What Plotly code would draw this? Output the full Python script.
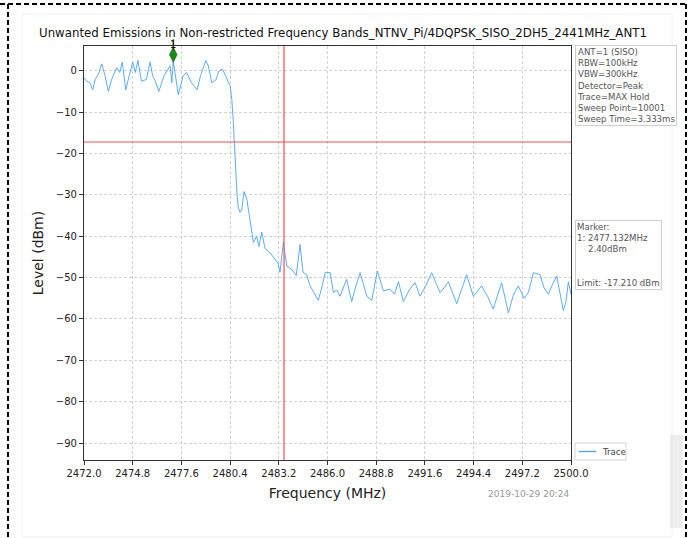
import plotly.graph_objects as go

title_text = "Unwanted Emissions in Non-restricted Frequency Bands_NTNV_Pi/4DQPSK_SISO_2DH5_2441MHz_ANT1"

freq_mhz = [
    2472.00, 2472.15, 2472.34, 2472.50, 2472.64, 2472.83, 2473.02, 2473.21, 2473.40, 2473.59,
    2473.88, 2474.05, 2474.20, 2474.40, 2474.60, 2474.80, 2474.95, 2475.10, 2475.30, 2475.58,
    2475.80, 2475.95, 2476.10, 2476.30, 2476.60, 2476.95, 2477.05, 2477.132, 2477.42, 2477.70,
    2477.90, 2478.18, 2478.50, 2478.70, 2479.00, 2479.15, 2479.35, 2479.60, 2479.75, 2479.95,
    2480.15, 2480.30, 2480.40, 2480.50, 2480.58, 2480.65, 2480.72, 2480.80, 2480.87, 2480.97,
    2481.07, 2481.20, 2481.36, 2481.55, 2481.74, 2481.93, 2482.05, 2482.22, 2482.41, 2482.70,
    2482.98, 2483.15, 2483.27, 2483.46, 2483.66, 2483.94, 2484.20, 2484.42, 2484.59, 2484.80,
    2485.00, 2485.20, 2485.47, 2485.70, 2485.86, 2486.15, 2486.34, 2486.53, 2486.72, 2487.10,
    2487.39, 2487.60, 2487.87, 2488.26, 2488.54, 2488.87, 2489.21, 2489.60, 2489.85, 2490.08,
    2490.36, 2490.70, 2491.03, 2491.32, 2491.65, 2491.99, 2492.47, 2492.70, 2492.95, 2493.43,
    2493.70, 2494.00, 2494.38, 2494.86, 2495.20, 2495.53, 2496.01, 2496.40, 2496.70, 2496.97,
    2497.30, 2497.55, 2497.84, 2498.22, 2498.45, 2498.70, 2498.95, 2499.18, 2499.40, 2499.56,
    2499.70, 2499.85, 2500.00,
]
level_dbm = [
    -1.7, -2.5, -2.9, -4.6, -2.1, -0.8, 1.7, -1.2, -5.0, -2.1,
    0.8, -0.4, 2.1, -4.6, -1.2, 2.1, -0.4, 2.5, -2.5, -2.1,
    2.1, -1.2, -2.5, -5.0, -1.2, 1.2, -2.9, 2.4, -5.8, -1.2,
    -0.4, -2.9, -4.6, -1.2, 2.5, 1.2, -2.9, -2.1, 0.0, 0.4,
    -1.2, -2.9, -3.5, -7.0, -12.0, -18.3, -24.7, -30.0, -33.0, -34.2,
    -33.6, -29.2, -31.0, -36.0, -41.5, -40.0, -42.5, -39.0, -43.0, -44.0,
    -45.6, -46.5, -48.7, -41.5, -47.2, -48.0, -49.5, -42.0, -48.7, -49.3,
    -52.0, -53.6, -55.5, -52.0, -48.8, -48.8, -53.6, -53.0, -54.5, -50.4,
    -55.8, -52.5, -48.8, -54.5, -55.5, -48.4, -53.2, -52.8, -54.0, -51.0,
    -55.8, -53.0, -51.2, -54.5, -52.0, -48.8, -53.6, -52.5, -51.0, -56.3,
    -53.0, -49.3, -54.5, -52.0, -54.5, -57.6, -51.2, -58.5, -54.0, -52.0,
    -55.0, -53.6, -48.8, -49.3, -52.5, -54.0, -51.5, -49.6, -54.5, -58.0,
    -56.0, -51.0, -54.0,
]

limit_dbm = -17.210
band_edge_mhz = 2483.5
marker_freq = 2477.132
marker_level = 2.40
marker_lift = 1.5

x_ticks = [2472.0, 2474.8, 2477.6, 2480.4, 2483.2, 2486.0, 2488.8, 2491.6, 2494.4, 2497.2, 2500.0]
y_ticks = [0, -10, -20, -30, -40, -50, -60, -70, -80, -90]
x_range = [2472.0, 2500.0]
y_range = [-94.1, 6.0]

info_lines = ["ANT=1 (SISO)", "RBW=100kHz", "VBW=300kHz", "Detector=Peak",
              "Trace=MAX Hold", "Sweep Point=10001", "Sweep Time=3.333ms"]
marker_lines = ["Marker:", "1: 2477.132MHz", "    2.40dBm", "", "", "Limit: -17.210 dBm"]
legend_label = "Trace"
timestamp = "2019-10-29 20:24"

FONT = "DejaVu Sans"
TRACE_COLOR = "#4aa3f2"
GRID_COLOR = "#d3d3d3"
W, H = 688, 538
L, R, T, B = 84, 117, 46, 78

fig = go.Figure()
fig.add_trace(go.Scatter(
    x=freq_mhz, y=level_dbm, mode="lines", name=legend_label,
    line=dict(color=TRACE_COLOR, width=0.9), showlegend=False,
))
fig.add_trace(go.Scatter(
    x=[marker_freq], y=[marker_level + marker_lift], mode="markers",
    marker=dict(symbol="diamond-tall", size=11, color="#1a8a1a",
                line=dict(color="#0b6b0b", width=0.5)),
    showlegend=False, hoverinfo="skip",
))

fig.add_hline(y=limit_dbm, line=dict(color="#f25050", width=1.2))
fig.add_vline(x=band_edge_mhz, line=dict(color="#f25050", width=1.2))

# marker label "1" with a short stem above the diamond
fig.add_annotation(x=marker_freq, y=1.0, yref="paper", yshift=9, text="1",
                   showarrow=False, font=dict(family=FONT, size=10, color="#000"))
fig.add_annotation(x=marker_freq, y=marker_level + marker_lift, ax=0, ay=-17,
                   showarrow=True, arrowhead=0, arrowwidth=1.2, arrowcolor="#222",
                   standoff=5, text="")

px_w = W - L - R
px_h = H - T - B


def xp(px):
    return (px - L) / px_w


def yp(py):
    return (H - B - py) / px_h


# info box
fig.add_annotation(xref="paper", yref="paper", x=xp(575), y=yp(45), xanchor="left", yanchor="top",
                   text="<br>".join(info_lines), align="left", showarrow=False,
                   font=dict(family=FONT, size=8.6, color="#555"),
                   bordercolor="#cfcfcf", borderwidth=1, borderpad=1, bgcolor="white")
# marker box
fig.add_annotation(xref="paper", yref="paper", x=xp(575), y=yp(220), xanchor="left", yanchor="top",
                   text="<br>".join(l if l else " " for l in marker_lines).replace("    ", "&nbsp;&nbsp;&nbsp;&nbsp;"),
                   align="left", showarrow=False,
                   font=dict(family=FONT, size=8.6, color="#555"),
                   bordercolor="#cfcfcf", borderwidth=1, borderpad=1, bgcolor="white")
# legend box (drawn manually to match the short matplotlib handle)
fig.add_shape(type="rect", xref="paper", yref="paper", x0=xp(575), x1=xp(626), y0=yp(443), y1=yp(460),
              line=dict(color="#d5d5d5", width=1), fillcolor="white")
fig.add_shape(type="line", xref="paper", yref="paper", x0=xp(579), x1=xp(596), y0=yp(451.5), y1=yp(451.5),
              line=dict(color=TRACE_COLOR, width=1.3))
fig.add_annotation(xref="paper", yref="paper", x=xp(600), y=yp(451.5), xanchor="left", yanchor="middle",
                   text=legend_label, showarrow=False, font=dict(family=FONT, size=8.6, color="#444"))
# timestamp
fig.add_annotation(xref="paper", yref="paper", x=xp(571), y=yp(494), xanchor="right", yanchor="middle",
                   text=timestamp, showarrow=False, font=dict(family=FONT, size=9, color="#999"))
# title
fig.add_annotation(xref="paper", yref="paper", x=xp(343), y=yp(33), xanchor="center", yanchor="middle",
                   text=title_text, showarrow=False, font=dict(family=FONT, size=11.8, color="#111"))

# outer dashed border
fig.add_shape(type="line", xref="paper", yref="paper", x0=xp(0), x1=xp(688), y0=yp(4), y1=yp(4),
              line=dict(color="#000", width=2, dash="5px,3px"))
fig.add_shape(type="line", xref="paper", yref="paper", x0=xp(8), x1=xp(8), y0=yp(4), y1=yp(538),
              line=dict(color="#000", width=2, dash="5px,3px"))
fig.add_shape(type="line", xref="paper", yref="paper", x0=xp(686), x1=xp(686), y0=yp(4), y1=yp(538),
              line=dict(color="#000", width=2, dash="5px,3px"))
# faint inner frame
fig.add_shape(type="rect", xref="paper", yref="paper", x0=xp(22), x1=xp(672), y0=yp(14), y1=yp(537),
              line=dict(color="#f0f0f0", width=1), layer="below")
# grey smudge bottom right
fig.add_shape(type="rect", xref="paper", yref="paper", x0=xp(670), x1=xp(683), y0=yp(435), y1=yp(528),
              line=dict(width=0), fillcolor="rgba(200,200,200,0.3)")

fig.update_layout(
    width=W, height=H,
    margin=dict(l=L, r=R, t=T, b=B, pad=0),
    paper_bgcolor="white", plot_bgcolor="white",
    font=dict(family=FONT, size=10, color="#222"),
    showlegend=False,
    xaxis=dict(range=x_range, tickvals=x_ticks, ticktext=[f"{v:.1f}" for v in x_ticks],
               showgrid=True, gridcolor=GRID_COLOR, griddash="3px,2px", gridwidth=0.7,
               showline=True, linecolor="#333", linewidth=1.2, mirror=True,
               ticks="outside", ticklen=4, tickcolor="#333", zeroline=False,
               tickfont=dict(family=FONT, size=10, color="#222"),
               title=dict(text="Frequency (MHz)", font=dict(family=FONT, size=14, color="#222"), standoff=10)),
    yaxis=dict(range=y_range, tickvals=y_ticks,
               showgrid=True, gridcolor=GRID_COLOR, griddash="3px,2px", gridwidth=0.7,
               showline=True, linecolor="#333", linewidth=1.2, mirror=True,
               ticks="outside", ticklen=4, tickcolor="#333", zeroline=False,
               tickfont=dict(family=FONT, size=10, color="#222"),
               title=dict(text="Level (dBm)", font=dict(family=FONT, size=14, color="#222"), standoff=8)),
)

fig.write_html("out.html", config={"displayModeBar": False},
               post_script="document.body.style.margin='0';document.body.style.overflow='hidden';")
